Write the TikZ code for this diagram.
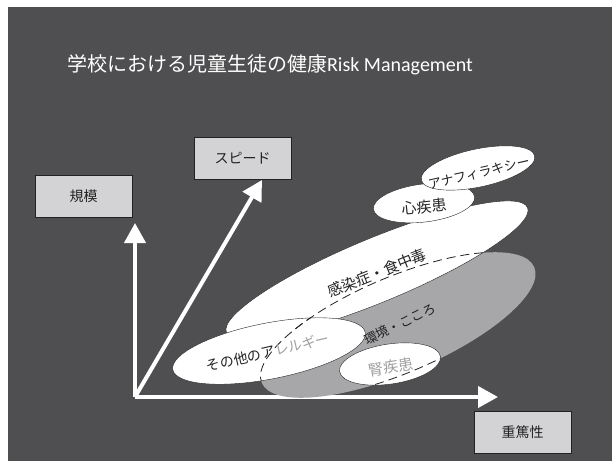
\documentclass[tikz,border=0pt]{standalone}
\usepackage{fontspec}
\setmainfont{Noto Sans CJK JP}
\newfontfamily\latinfont{Carlito}
\usetikzlibrary{arrows.meta,shapes.geometric}
\definecolor{bgdark}{HTML}{4F4F51}
\definecolor{boxgray}{HTML}{D3D3D5}
\definecolor{blobgray}{HTML}{A7A7A9}
\definecolor{inkdark}{HTML}{222222}
\definecolor{textgray}{HTML}{A0A0A2}
\newcommand{\fs}[1]{\fontsize{#1}{#1}\selectfont}
\begin{document}
\begin{tikzpicture}[x=1pt,y=1pt,
  labelbox/.style={draw=inkdark, fill=boxgray, line width=0.6pt, minimum width=97pt, minimum height=42pt, inner sep=0pt, font=\fs{14}, text=inkdark},
  axis/.style={white, line width=4pt, -{Triangle[width=21pt,length=20pt]}},
  blob/.style={ellipse, draw=inkdark, line width=0.4pt, fill=white, inner sep=0pt},
  graybox/.style={ellipse, fill=blobgray, inner sep=0pt},
  dashring/.style={ellipse, draw=inkdark, line width=0.8pt, dash pattern=on 9pt off 5pt, inner sep=0pt, minimum width=296pt, minimum height=96pt, rotate=23},
  lbl/.style={text=inkdark, inner sep=0pt}
]
\useasboundingbox (0,0) rectangle (612,461);
\fill[white] (0,0) rectangle (612,461);
\fill[bgdark] (8,0) rectangle (612,454);

\node[text=white, font=\fs{20}] (title) at (270,396) {学校における児童生徒の健康{\latinfont Risk Management}};

% boxes
\node[labelbox] (scale) at (83.5,264.5) {規模};
\node[labelbox] (speed) at (242.5,303) {スピード};
\node[labelbox] (severity) at (522.5,29) {重篤性};

% axes
\coordinate (O) at (135,64);
\coordinate (up) at (135,238);
\coordinate (diag) at (262,281);
\coordinate (right) at (498,64);
\draw[axis] (O) -- (up);
\draw[axis] (O) -- (diag);
\draw[axis] (O) -- (right);

% ellipses
\node[graybox, minimum width=296pt, minimum height=96pt, rotate=23] (env) at (398,136) {};
\node[blob, minimum width=326pt, minimum height=64pt, rotate=22.5] (infect) at (377,191) {};
\node[blob, minimum width=102pt, minimum height=38pt, rotate=7] (heart) at (424,258) {};
\node[blob, minimum width=116pt, minimum height=38pt, rotate=12] (ana) at (478,293) {};
\node[blob, minimum width=196pt, minimum height=56pt, rotate=11] (allergy) at (269,110) {};
\node[blob, minimum width=102pt, minimum height=40pt, rotate=8.5] (kidney) at (390,97) {};

% dashed outline of the grey area, visible only over the white areas
\begin{scope}
  \clip[rotate around={22.5:(377,191)}] (377,191) ellipse (163pt and 32pt);
  \node[dashring] (ring1) at (398,136) {};
\end{scope}
\begin{scope}
  \clip[rotate around={11:(269,110)}] (269,110) ellipse (98pt and 28pt);
  \node[dashring] (ring2) at (398,136) {};
\end{scope}
\begin{scope}
  \clip[rotate around={8.5:(390,97)}] (390,97) ellipse (51pt and 20pt);
  \node[dashring] (ring3) at (398,136) {};
\end{scope}

% labels
\node[lbl, font=\fs{15}, rotate=22] (tinfect) at (377,188) {感染症・食中毒};
\node[lbl, font=\fs{13}, rotate=26] (tenv) at (400,137) {環境・こころ};
\node[lbl, font=\fs{14}, rotate=13] (tallergy) at (268,109) {その他のア\textcolor{textgray}{レルギー}};
\node[lbl, font=\fs{15}, rotate=9, text=textgray] (tkidney) at (391,94) {腎疾患};
\node[lbl, font=\fs{15}, rotate=6] (theart) at (424,254) {心疾患};
\node[lbl, font=\fs{13}, rotate=13] (tana) at (479,288) {アナフィラキシー};
\end{tikzpicture}
\end{document}
